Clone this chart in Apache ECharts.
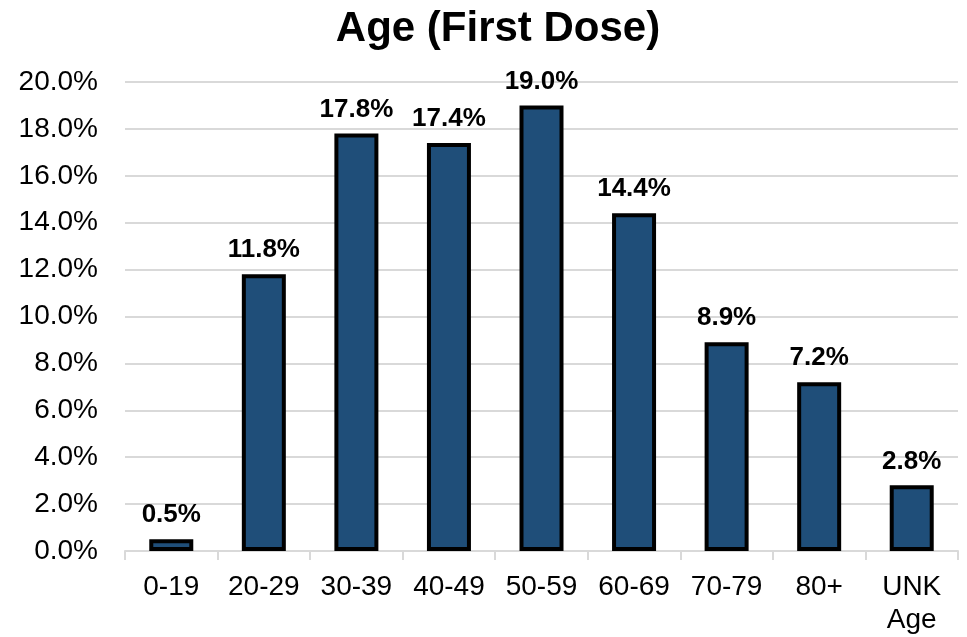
<!DOCTYPE html>
<html>
<head>
<meta charset="utf-8">
<script src="https://cdn.jsdelivr.net/npm/echarts@6/dist/echarts.min.js"></script>
<style>
html, body { margin: 0; padding: 0; background: #fff; }
#chart { width: 967px; height: 637px; }
</style>
</head>
<body>
<div id="chart"></div>
<script>
var categories = ['0-19', '20-29', '30-39', '40-49', '50-59', '60-69', '70-79', '80+', 'UNK\nAge'];
var shares = [0.5, 11.8, 17.8, 17.4, 19.0, 14.4, 8.9, 7.2, 2.8];
var yMin = 0, yMax = 20, yStep = 2;

var chart = echarts.init(document.getElementById('chart'));
chart.setOption({
	animation: false,
	title: {
		text: 'Age (First Dose)',
		left: 493,
		textAlign: 'center',
		top: 3,
		textStyle: { fontFamily: 'Liberation Sans', fontSize: 42, fontWeight: 'bold', color: '#000' }
	},
	grid: { left: 125, right: 9, top: 82, bottom: 85, containLabel: false },
	xAxis: {
		type: 'category',
		data: categories,
		axisLine: { lineStyle: { color: '#d9d9d9', width: 2 } },
		axisTick: { show: true, length: 9, lineStyle: { color: '#d9d9d9', width: 2 } },
		axisLabel: { interval: 0, fontFamily: 'Liberation Sans', fontSize: 28, color: '#000', margin: 20, lineHeight: 33 }
	},
	yAxis: {
		type: 'value',
		min: yMin,
		max: yMax,
		interval: yStep,
		axisLine: { show: false },
		axisTick: { show: false },
		splitLine: { lineStyle: { color: '#d9d9d9', width: 2 } },
		axisLabel: {
			fontFamily: 'Liberation Sans', fontSize: 28, color: '#000', margin: 27,
			formatter: function (v) { return v.toFixed(1) + '%'; }
		}
	},
	series: [{
		type: 'bar',
		data: shares,
		barWidth: 44,
		itemStyle: { color: '#1F4E79', borderColor: '#000', borderWidth: 4 },
		label: {
			show: true,
			position: 'top',
			distance: 11,
			fontFamily: 'Liberation Sans',
			fontSize: 26,
			fontWeight: 'bold',
			color: '#000',
			formatter: function (p) { return p.value.toFixed(1) + '%'; }
		}
	}]
});
</script>
</body>
</html>
